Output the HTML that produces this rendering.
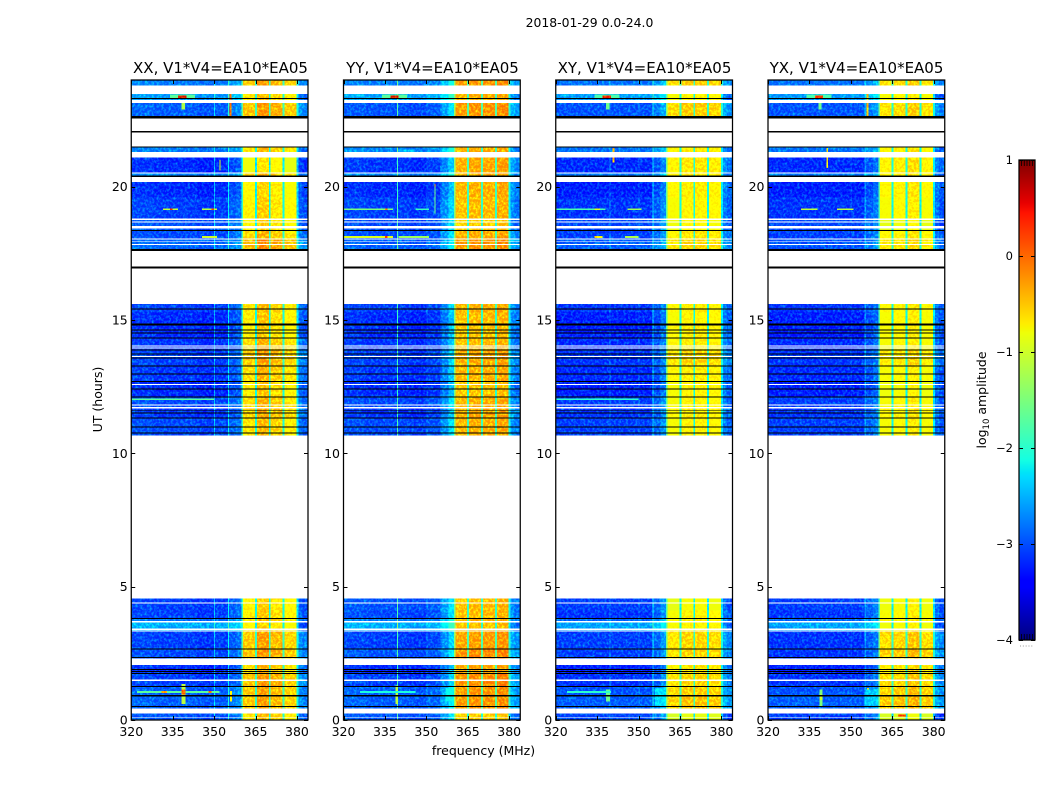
<!DOCTYPE html>
<html lang="en">
<head>
<meta charset="utf-8">
<title>2018-01-29 0.0-24.0</title>
<style>
html,body{margin:0;padding:0;background:#fff;}
svg{display:block;font-family:"DejaVu Sans","Liberation Sans",sans-serif;}
text{fill:#000;}
</style>
</head>
<body>
<svg id="fig" xmlns="http://www.w3.org/2000/svg" width="1050" height="800" viewBox="0 0 1050 800">
  <defs>
    <filter id="grain" x="0" y="0" width="100%" height="100%" color-interpolation-filters="sRGB">
      <feTurbulence type="fractalNoise" baseFrequency="0.42 0.38" numOctaves="2" seed="7" result="n"/>
      <feColorMatrix in="n" type="matrix" values="0 0 0 0 0  1.05 0 0 0 -0.42  0 0 0 0 0  0 0 0 0 1" result="g"/>
      <feComposite in="g" in2="SourceAlpha" operator="in" result="gm"/>
      <feComposite in="SourceGraphic" in2="gm" operator="arithmetic" k1="0" k2="1" k3="1" k4="0"/>
    </filter>
  </defs>
  <rect x="0" y="0" width="1050" height="800" fill="#fff"/>
  <text x="589.5" y="27" font-size="12.4" text-anchor="middle">2018-01-29 0.0-24.0</text>
  <text x="483.5" y="755" font-size="12.5" text-anchor="middle">frequency (MHz)</text>
  <text x="102" y="399.5" font-size="12.5" text-anchor="middle" transform="rotate(-90 102 399.5)">UT (hours)</text>
  <text x="220.5" y="73" font-size="15" text-anchor="middle">XX, V1*V4=EA10*EA05</text>
  <text x="432.5" y="73" font-size="15" text-anchor="middle">YY, V1*V4=EA10*EA05</text>
  <text x="644.5" y="73" font-size="15" text-anchor="middle">XY, V1*V4=EA10*EA05</text>
  <text x="856.5" y="73" font-size="15" text-anchor="middle">YX, V1*V4=EA10*EA05</text>
  <g id="panels"></g>
  <g id="colorbar"></g>
  <text x="986" y="400" font-size="12.5" text-anchor="middle" transform="rotate(-90 986 400)">log<tspan font-size="8.5" dy="3">10</tspan><tspan dy="-3"> amplitude</tspan></text>
</svg>
<script>
// ---- axis tick labels ----
const freqTicks = [320, 335, 350, 365, 380];
const hourTicks = [0, 5, 10, 15, 20];
const colorbarTicks = [-4, -3, -2, -1, 0, 1];
const colorbarMinorSteps = [0.03, 0.09, 0.15, 0.21, 0.27];

// ---- channel groups (MHz) ----
const freqEdges = [320,324,328,332,336,338,339.4,339.8,341,344,347,350,350.4,355,355.4,358,360,360.5,364.8,365.5,369.8,370.5,374.8,375.5,379.8,380.5,382,384];

// ---- time segments (UT hours) ----
const rowEdges = [0,.25,.44,.9,1.26,1.73,2.06,2.3,2.66,3.31,3.475,3.65,3.8,4.1,4.55,10.67,11.33,11.7,12.1,12.7,13.3,13.9,14.3,14.85,15.3,15.6,17.66,18.05,18.35,18.8,19.6,20.17,20.42,20.5,21.1,21.3,21.5,22.65,23.13,23.25,23.48,23.8,24];

// ---- spectral profile per polarisation (log10 amplitude per channel group) ----
const profileXX = [-3.2,-3.2,-3.25,-3.25,-3.25,-3.25,-3.2,-3.25,-3.25,-3.3,-3.3,-2.6,-3.25,-2.3,-3.1,-3.0,-1.9,-0.6,-2.15,-0.35,-2.15,-0.5,-2.1,-0.65,-2.35,-3.0,-3.1];
const profileYY = [-3.2,-3.2,-3.25,-3.25,-3.25,-3.25,-1.9,-3.25,-3.25,-3.3,-3.3,-3.05,-3.2,-3.05,-2.85,-2.5,-1.5,-0.35,-1.95,-0.3,-1.95,-0.3,-1.95,-0.25,-2.2,-2.8,-2.95];
const profileXY = [-3.3,-3.3,-3.3,-3.3,-3.3,-3.3,-3.0,-3.3,-3.3,-3.3,-3.3,-3.05,-3.3,-2.4,-3.1,-2.85,-1.75,-0.8,-2.2,-0.7,-2.2,-0.7,-2.25,-0.75,-2.35,-2.95,-3.1];
const profileYX = [-3.3,-3.3,-3.3,-3.3,-3.3,-3.3,-3.2,-3.3,-3.3,-3.3,-3.3,-3.2,-3.3,-2.8,-3.1,-2.95,-1.8,-0.8,-2.25,-0.75,-2.25,-0.65,-2.3,-0.8,-2.4,-3.0,-3.15];

// ---- gain per time segment below 360 MHz (null = no data) ----
const lowGainXX = [.15,null,.2,.2,.05,-.05,null,.1,.05,.55,.6,.3,.05,.05,null,.1,0,.1,-.05,0,.05,0,-.05,-.05,.05,null,.25,.1,.15,.05,-.05,null,.4,-.05,null,.35,null,.2,null,.5,null,.35];
const lowGainYY = [.15,null,.2,.2,.05,-.05,null,.15,.05,.55,.6,.35,.1,.15,null,.1,0,.1,-.05,0,.05,0,-.05,-.05,.05,null,.2,.1,.1,.05,-.05,null,.4,0,null,.4,null,.15,null,.55,null,.35];
const lowGainXY = [.15,null,.25,.2,.05,-.05,null,.1,.1,.55,.6,.3,.05,.1,null,.1,.05,.1,-.05,0,.05,0,-.05,-.05,.05,null,.25,.1,.15,.05,-.05,null,.4,0,null,.35,null,.2,null,.55,null,.35];
const lowGainYX = [.1,null,.25,.2,.05,-.05,null,.05,.05,.55,.6,.3,.05,.1,null,.1,.05,.1,-.05,0,.05,0,-.05,-.05,.05,null,.2,.1,.15,.05,-.05,null,.4,0,null,.35,null,.2,null,.55,null,.35];

// ---- gain per time segment above 360 MHz (null = no data) ----
const highGainXX = [.05,null,.2,.2,.25,.1,null,.25,.2,0,-.1,.05,0,-.05,null,.05,.15,.1,0,.1,.2,.1,-.05,0,.05,null,.3,.1,-.05,-.05,-.1,null,.1,-.2,null,.05,null,.25,null,.05,null,.2];
const highGainYY = [-.1,null,.2,.2,.25,.1,null,.25,.15,0,-.05,.05,0,0,null,.05,.1,.05,-.05,.05,.1,0,-.05,0,.05,null,.2,.1,-.1,0,.05,null,.1,.1,null,.05,null,.2,null,.05,null,.2];
const highGainXY = [-.15,null,.35,.3,.25,.15,null,.25,.25,.1,.05,.1,.05,-.05,null,.05,.1,.05,.05,.1,.25,.1,.1,.05,.1,null,.25,.15,0,.05,.1,null,.1,.15,null,.1,null,.3,null,.05,null,.3];
const highGainYX = [-.15,null,.4,.35,.3,.2,null,.35,.3,.05,0,.1,.05,0,null,.05,.1,.05,0,.05,.2,.05,.05,.05,.1,null,.2,.1,-.05,.05,.1,null,.1,.15,null,.1,null,.25,null,.05,null,.25];

// ---- narrowband bursts: [hour0, hour1, MHz0, MHz1, log10 amplitude] ----
const burstsXX = [[23.32,23.46,334,343,-1.7],[23.33,23.42,337,340,0.6],[22.9,23.13,338.2,339.4,-1.2],[22.65,23.48,355.6,356.3,0.1],[1.02,1.08,322,352,-1.7],[1.02,1.08,331,333,-0.2],[1.02,1.08,348,349,0.2],[.6,1.35,338.2,339.6,-1.1],[.95,1.15,338.2,339.6,0.2],[.7,1.08,355.7,356.5,-0.6],[19.12,19.18,331.5,337,-1.1],[19.12,19.18,334,335,0.4],[19.12,19.18,345.6,351,-1.1],[19.12,19.18,349,350,0.4],[18.08,18.15,345.6,351,-1.0],[12.0,12.06,320,350,-1.7],[20.6,21.0,352,352.4,-0.9]];
const burstsYY = [[23.32,23.46,334,343,-1.7],[23.33,23.42,337,340,0.6],[.6,1.3,338.9,339.8,-1.1],[1.02,1.08,326,346,-2.1],[.7,1.2,357,360,-2.2],[19.12,19.18,320,338,-1.5],[19.12,19.18,335,336,0.2],[19.12,19.18,346,351,-1.9],[18.08,18.15,320,338,-0.9],[18.08,18.15,335,336,0.4],[18.08,18.15,340,351,-1.3],[20.0,20.1,353,353.4,-0.1],[19.0,20.0,353,353.3,-1.6],[21.2,21.4,340,346,-2.6]];
const burstsXY = [[23.32,23.46,334,343,-1.8],[23.33,23.42,337,340,0.5],[22.9,23.13,338.2,339.4,-1.6],[20.9,21.45,340.6,341.3,-0.3],[19.12,19.18,320,338,-1.8],[19.12,19.18,334,336,-0.9],[19.12,19.18,346,351,-1.3],[18.08,18.15,334,337,-0.6],[18.08,18.15,345,350,-1.2],[.7,1.15,338.2,339.6,-1.6],[1.02,1.08,324,340,-2.0],[.5,1.2,356,360,-2.4],[12.0,12.06,320,350,-2.0]];
const burstsYX = [[23.32,23.46,334,343,-1.8],[23.33,23.42,337,340,0.4],[22.9,23.13,338.2,339.4,-1.6],[22.65,23.48,355.6,356.3,-0.3],[20.7,21.45,341.1,341.7,-0.6],[19.12,19.18,332,338,-1.1],[19.12,19.18,345,351,-1.1],[.5,1.15,338.6,339.8,-1.5],[.75,.95,338.6,339.8,-1.0],[.75,1.2,355.8,356.6,-0.6],[.55,1.15,355.5,360,-2.5],[.13,.2,367,370,0.4]];

// ---- flagged lines drawn over the data (UT hours) ----
const blackStarts = [.48,.88,1.24,1.72,1.8,1.87,2.32,2.64,3.78,10.75,10.97,11.31,11.5,11.6,12.09,12.39,12.67,12.95,13.25,13.55,13.7,13.85,14.3,14.5,14.6,14.8,15.39,17.58,16.94,18.33,20.36,21.46,22.03,22.56,23.28];
const blackEnds   = [.52,.93,1.28,1.76,1.84,1.91,2.36,2.68,3.82,10.79,11.01,11.35,11.54,11.63,12.13,12.43,12.71,12.99,13.29,13.59,13.74,13.89,14.35,14.54,14.65,14.86,15.43,17.66,17.0,18.37,20.42,21.5,22.08,22.65,23.32];
const whiteStarts = [.09,1.47,3.31,3.38,3.65,4.37,11.69,11.8,12.56,13.61,13.94,14.01,17.81,17.92,18.02,18.44,18.65,18.75,20.17,20.5,21.1,23.13];
const whiteEnds   = [.12,1.51,3.36,3.44,3.72,4.41,11.73,11.84,12.6,13.65,13.97,14.05,17.85,17.95,18.06,18.52,18.69,18.81,20.36,20.53,21.3,23.25];

// ---- geometry ----
const SVGNS = 'http://www.w3.org/2000/svg';
const panelNames = ['xx', 'yy', 'xy', 'yx'];
const panelLefts = [131.25, 343.5, 555.75, 768];
const profiles = [profileXX, profileYY, profileXY, profileYX];
const lowGains = [lowGainXX, lowGainYY, lowGainXY, lowGainYX];
const highGains = [highGainXX, highGainYY, highGainXY, highGainYX];
const bursts = [burstsXX, burstsYY, burstsXY, burstsYX];
const PLOT_W = 176.75, PLOT_TOP = 80, PLOT_BOTTOM = 720;
const F0 = 320, F1 = 384, T0 = 0, T1 = 24;
const CB_X = 1019, CB_W = 16, CB_TOP = 160, CB_BOTTOM = 640;
const V0 = -4, V1 = 1;

function xScale(panelIndex, mhz) {
  return panelLefts[panelIndex] + (mhz - F0) / (F1 - F0) * PLOT_W;
}
function yScale(hour) {
  return PLOT_BOTTOM - (hour - T0) / (T1 - T0) * (PLOT_BOTTOM - PLOT_TOP);
}
function cbScale(v) {
  return CB_BOTTOM - (v - V0) / (V1 - V0) * (CB_BOTTOM - CB_TOP);
}
function seg(t, pts) {
  if (t <= pts[0][0]) return pts[0][1];
  for (let i = 1; i < pts.length; i++) {
    if (t <= pts[i][0]) {
      const a = pts[i - 1], b = pts[i];
      return a[1] + (b[1] - a[1]) * (t - a[0]) / (b[0] - a[0]);
    }
  }
  return pts[pts.length - 1][1];
}
function jet(v) {
  const t = Math.max(0, Math.min(1, (v - V0) / (V1 - V0)));
  const r = seg(t, [[0, 0], [.35, 0], [.66, 1], [.89, 1], [1, .5]]);
  const g = seg(t, [[0, 0], [.125, 0], [.375, 1], [.64, 1], [.91, 0]]);
  const b = seg(t, [[0, .5], [.11, 1], [.34, 1], [.65, 0], [1, 0]]);
  return 'rgb(' + Math.round(r * 255) + ',' + Math.round(g * 255) + ',' + Math.round(b * 255) + ')';
}
function mk(tag, parent, attrs) {
  const el = document.createElementNS(SVGNS, tag);
  for (const k in attrs) el.setAttribute(k, attrs[k]);
  parent.appendChild(el);
  return el;
}

const panelsRoot = document.getElementById('panels');

panelNames.forEach(function (name, p) {
  const group = mk('g', panelsRoot, {});
  
  

  const heat = mk('g', group, { filter: 'url(#grain)', 'shape-rendering': 'crispEdges' });
  
  

  // cells
  for (let r = 0; r < rowEdges.length - 1; r++) {
    if (lowGains[p][r] === null) continue;
    const yTop = yScale(rowEdges[r + 1]);
    const yBot = yScale(rowEdges[r]);
    for (let c = 0; c < freqEdges.length - 1; c++) {
      const gain = freqEdges[c] < 360 ? lowGains[p][r] : highGains[p][r];
      const x0 = xScale(p, freqEdges[c]);
      const x1 = xScale(p, freqEdges[c + 1]);
      const cell = mk('rect', heat, { x: x0, y: yTop, width: x1 - x0, height: yBot - yTop, fill: jet(profiles[p][c] + gain) });
      
      
    }
  }

  // bursts
  bursts[p].forEach(function (b) {
    const x0 = xScale(p, b[2]);
    const x1 = xScale(p, b[3]);
    const burst = mk('rect', heat, { x: x0, y: yScale(b[1]), width: x1 - x0, height: yScale(b[0]) - yScale(b[1]), fill: jet(b[4]) });
    
    
  });

  // flagged lines
  whiteStarts.forEach(function (h, i) {
    const w = mk('rect', group, { x: xScale(p, F0), y: yScale(whiteEnds[i]), width: PLOT_W, height: yScale(h) - yScale(whiteEnds[i]), fill: '#fff', 'shape-rendering': 'crispEdges' });
    
    
  });
  blackStarts.forEach(function (h, i) {
    const k = mk('rect', group, { x: xScale(p, F0), y: yScale(blackEnds[i]), width: PLOT_W, height: yScale(h) - yScale(blackEnds[i]), fill: '#000', 'shape-rendering': 'crispEdges' });
    
    
  });

  // frame
  const frame = mk('rect', group, { x: panelLefts[p], y: PLOT_TOP, width: PLOT_W, height: PLOT_BOTTOM - PLOT_TOP, fill: 'none', stroke: '#000', 'stroke-width': 1.25 });
  
  

  // x ticks and labels
  freqTicks.forEach(function (f) {
    const x = Math.round(xScale(p, f)) + 0.5;
    const t1 = mk('line', group, { x1: x, x2: x, y1: PLOT_BOTTOM, y2: PLOT_BOTTOM - 4, stroke: '#000', 'stroke-width': 1 });
    
    
    const t2 = mk('line', group, { x1: x, x2: x, y1: PLOT_TOP, y2: PLOT_TOP + 4, stroke: '#000', 'stroke-width': 1 });
    
    
    const lab = mk('text', group, { x: xScale(p, f), y: 736, 'font-size': 12.5, 'text-anchor': 'middle' });
    lab.textContent = String(f);
    
    
  });

  // y ticks and labels
  hourTicks.forEach(function (h) {
    const y = Math.round(yScale(h)) + 0.5;
    const x0 = panelLefts[p], x1 = panelLefts[p] + PLOT_W;
    const t1 = mk('line', group, { x1: x0, x2: x0 + 4, y1: y, y2: y, stroke: '#000', 'stroke-width': 1 });
    
    
    const t2 = mk('line', group, { x1: x1, x2: x1 - 4, y1: y, y2: y, stroke: '#000', 'stroke-width': 1 });
    
    
    const lab = mk('text', group, { x: x0 - 3.5, y: yScale(h) + 4.5, 'font-size': 12.5, 'text-anchor': 'end' });
    lab.textContent = String(h);
    
    
  });
});

// ---- colorbar ----
const cb = document.getElementById('colorbar');
for (let py = CB_TOP; py < CB_BOTTOM; py++) {
  const v = V1 - (py + 0.5 - CB_TOP) / (CB_BOTTOM - CB_TOP) * (V1 - V0);
  const strip = mk('rect', cb, { x: CB_X, y: py, width: CB_W, height: 1, fill: jet(v), 'shape-rendering': 'crispEdges' });
  
  
}
colorbarMinorSteps.forEach(function (s, i) {
  const x = CB_X + 2.5 + i * 2.75;
  const a = mk('line', cb, { x1: x, x2: x, y1: CB_TOP, y2: CB_TOP + 6, stroke: '#000', 'stroke-width': 0.8 });
  
  
  const b = mk('line', cb, { x1: x, x2: x, y1: CB_BOTTOM, y2: CB_BOTTOM - 6, stroke: '#000', 'stroke-width': 0.8 });
  
  
  const d = mk('rect', cb, { x: x - 1.5 + s, y: 645.5, width: 1, height: 1, fill: '#999' });
  
  
});
const cbFrame = mk('rect', cb, { x: CB_X, y: CB_TOP, width: CB_W, height: CB_BOTTOM - CB_TOP, fill: 'none', stroke: '#000', 'stroke-width': 1.25 });


colorbarTicks.forEach(function (v) {
  const y = Math.round(cbScale(v)) + 0.5;
  const a = mk('line', cb, { x1: CB_X, x2: CB_X + 4, y1: y, y2: y, stroke: '#000', 'stroke-width': 1 });
  
  
  const b = mk('line', cb, { x1: CB_X + CB_W, x2: CB_X + CB_W - 4, y1: y, y2: y, stroke: '#000', 'stroke-width': 1 });
  
  
  const lab = mk('text', cb, { x: CB_X - 6, y: cbScale(v) + 4, 'font-size': 11.5, 'text-anchor': 'end' });
  lab.textContent = v < 0 ? '\u2212' + Math.abs(v) : String(v);
  
  
});
</script>
</body>
</html>
